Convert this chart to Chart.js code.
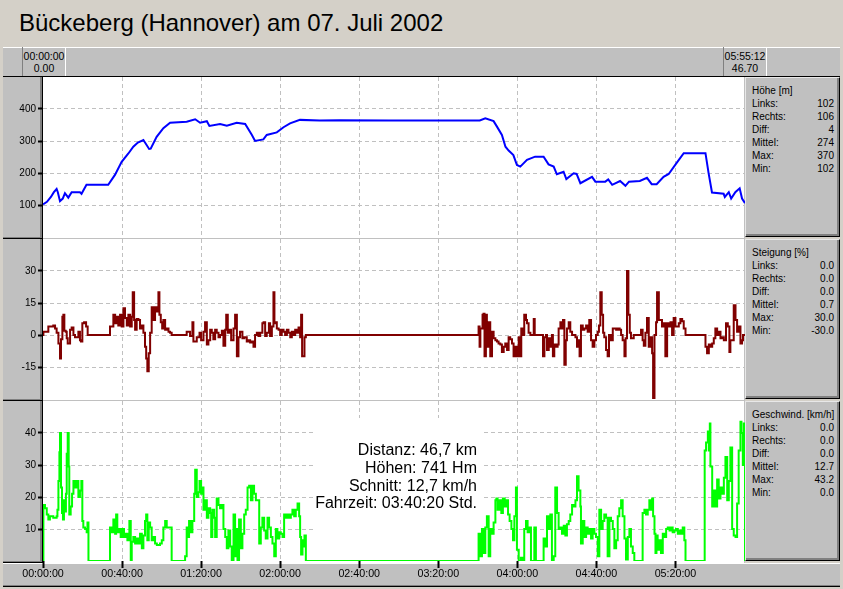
<!DOCTYPE html>
<html>
<head>
<meta charset="utf-8">
<script src="https://cdn.jsdelivr.net/npm/chart.js@4"></script>
<style>
body{margin:0;width:843px;height:589px;background:#d4d0c8;position:relative;overflow:hidden;font-family:"Liberation Sans",Arial,sans-serif;color:#000}
div,canvas{position:absolute;box-sizing:border-box}
#titel{left:19px;top:9px;font-size:24px;white-space:nowrap}
#topbar{left:3px;top:47px;width:837px;height:30px;background:#c0c0c0;border-top:1px solid #fff;border-bottom:1px solid #000}
.mark{top:47px;width:44px;height:29px;border-left:1px solid #808080;border-right:1px solid #fff;text-align:center;font-size:10.5px;line-height:12px;padding-top:3px}
#plotbg{left:43px;top:77px;width:702px;height:486px;background:#c0c0c0}
.weiss{left:43px;width:701px;background:#fff}
.gut{left:3px;width:40px;height:162px;background:#c0c0c0;border-right:1px solid #000;border-bottom:1px solid #000;box-shadow:inset -2px -1px 0 #808080}
.stat{left:745px;width:95px;height:160px;background:#c0c0c0;border-top:1px solid #e8e8e8;border-left:1px solid #e8e8e8;border-right:1px solid #000;border-bottom:1px solid #000;box-shadow:inset -2px -2px 0 #808080;padding:6px 5px 0 6px;font-size:10px;line-height:13px}
.stat .row{position:relative;display:flex;justify-content:space-between;white-space:nowrap}
#botbar{left:3px;top:563px;width:837px;height:23px;background:#c0c0c0;border-top:1px solid #fff;border-bottom:1px solid #808080;box-shadow:0 1px 0 #000}
</style>
</head>
<body>
<div id="titel">Bückeberg (Hannover) am 07. Juli 2002</div>
<div id="topbar"></div>
<div class="mark" style="left:22px">00:00:00<br>0.00</div>
<div class="mark" style="left:723px">05:55:12<br>46.70</div>
<div id="botbar"></div>
<div id="plotbg"></div>
<div class="weiss" style="top:77px;height:161px"></div>
<div class="weiss" style="top:239px;height:161px"></div>
<div class="weiss" style="top:401px;height:162px"></div>
<div class="gut" style="top:77px"></div>
<div class="gut" style="top:239px"></div>
<div class="gut" style="top:401px"></div>
<div class="stat" id="s1" style="top:77px"></div>
<div class="stat" id="s2" style="top:239px"></div>
<div class="stat" id="s3" style="top:401px"></div>
<canvas id="c1" width="745" height="160" style="left:0;top:77px"></canvas>
<canvas id="c2" width="745" height="160" style="left:0;top:239px"></canvas>
<canvas id="c3" width="745" height="184" style="left:0;top:401px"></canvas>
<script>
// Zeit in Minuten, Ende = 05:55:12
const tEnde = 355.2;

// Hoehe [m]
const hoehe = [[0,102],[2,110],[4,125],[5.5,140],[6.9,150],[7.5,140],[8.6,112],[10,120],[11.1,137],[12.8,123],[14.5,140],[18.7,140],[19.5,135],[22,163],[33,163],[36.4,194],[39.8,235],[43.2,261],[45.7,282],[48,295],[50.8,303],[53.7,275],[54.5,276],[57.5,313],[60.9,340],[64.3,357],[72.7,360],[77,368],[79.5,357],[82.9,362],[84.2,347],[89.6,353],[93,348],[98,357],[102.3,353],[105.7,319],[107.3,300],[111.5,305],[113.2,319],[118.3,327],[121.7,343],[125,355],[130,366],[140,364],[150,365],[175,364],[200,364],[221,364],[223.8,371],[228,362],[229.7,345],[232.2,319],[234,282],[235.6,270],[238,256],[239.8,225],[241.5,220],[244.9,241],[249,251],[253.3,251],[255.8,227],[258.4,220],[260,196],[263.4,204],[264.8,181],[268.5,199],[270,197],[271.9,168],[277.8,188],[279.5,173],[284.5,173],[286,180],[288,163],[292,175],[294.7,160],[296.5,173],[302,175],[305.6,185],[308,165],[310.5,165],[314,188],[316.6,197],[320.8,233],[324.2,262],[335.2,262],[336.8,199],[338.5,139],[344.4,135],[345,125],[347,140],[348.2,120],[350.3,140],[352.5,152],[353.7,120],[355.2,106]];

// Steigung [%]
const steigung = [[0,0],[0.2,1.5],[1.9,1.5],[2.7,4],[3.5,4],[5.2,4.5],[6.1,3],[6.9,1],[7.8,-4],[8.6,-11],[9.1,-2],[9.8,8.5],[10.3,9.5],[10.8,2],[11.5,1.5],[12.0,-1.5],[12.5,-4],[13.7,2.5],[14.5,3.5],[15.4,0],[16.2,-1],[17.9,1.5],[18.7,-2.5],[19.2,-3],[19.9,5.5],[20.8,6],[21.8,4],[22.6,0],[33.9,4],[35.6,9.5],[36.5,5.5],[37.3,8.5],[38.1,4.5],[39.0,9.5],[39.8,4],[40.7,12.5],[41.5,8],[42.4,4.5],[43.2,9.5],[44.1,4],[44.9,8.5],[45.4,20],[46.1,7],[46.6,2.5],[47.4,7.5],[48.3,7],[49.1,3],[50.0,4.5],[50.8,1],[51.6,-5.5],[52.2,-11],[52.8,-17],[53.5,-8.5],[54.2,1],[55.0,13],[55.9,7],[56.7,13],[57.6,11],[58.4,20],[58.9,9.5],[59.6,6],[60.3,3],[60.9,7],[61.8,2.5],[62.6,3],[63.5,1.5],[64.3,1],[65.1,0],[71.9,0],[72.7,1.5],[74.4,-0.5],[75.6,6],[76.1,-3],[77.8,-1],[79.2,1],[80.0,-2.5],[81.2,1.5],[82.0,6],[82.9,-4.5],[83.7,-2.5],[84.6,2.5],[85.4,1],[86.2,-2],[87.1,2.5],[87.9,1],[88.8,-1],[89.6,0],[90.5,2],[91.3,-5],[92.2,2.5],[92.7,9.5],[93.5,1],[94.3,2.5],[95.2,-2.5],[96.4,3],[97.2,9.5],[98.1,-10],[98.9,-1],[99.7,1.5],[100.9,-1.5],[101.9,-1],[103.1,-3],[103.9,-2.5],[104.8,-3.5],[105.6,-3],[106.5,-5.5],[107.3,0],[108.2,1],[109.0,-0.5],[109.9,1],[111.0,5.5],[111.6,6],[112.4,-0.5],[113.2,1],[114.3,5.5],[114.9,-0.5],[115.8,4],[116.6,20],[117.1,5.5],[117.8,6],[118.3,3],[119.2,2.5],[120.0,0],[120.8,2.5],[121.7,1.5],[122.5,0],[123.4,2.5],[124.2,1],[125.1,-1],[125.9,1.5],[126.8,0],[127.6,2.5],[128.4,1],[129.3,3.5],[130.1,-1],[130.6,9.5],[131.1,-10],[131.8,-10],[132.3,-1],[133.0,0],
  [220.4,4],[220.9,-5.5],[221.3,3],[222.4,9.5],[222.9,10],[223.4,-10],[224.1,9.5],[224.6,-5.5],[225.5,6],[226.3,-10],[227.2,1.5],[228.0,-1.5],[228.9,-2.5],[229.7,-3],[230.5,-4],[231.4,-4.5],[232.2,-8],[233.1,-5.5],[233.9,-4],[234.8,-7],[235.6,-1],[236.4,-2],[237.3,-4],[238.1,-10],[239.0,-5.5],[239.8,-10],[240.7,-1],[241.5,-10],[242.0,3],[242.9,0],[243.5,9.5],[244.4,7],[244.9,5.5],[245.7,1],[246.6,0],[248.3,7.5],[248.8,0],[252.5,0],[253.0,-10],[253.7,-1],[254.5,0],[255.0,-7],[255.9,-1.5],[256.7,-5.5],[257.5,0],[258.0,-10],[258.7,-4.5],[259.6,-5.5],[260.4,-4.5],[260.9,3],[261.8,6],[262.6,3],[263.1,7],[263.8,-14],[264.5,-2.5],[265.1,3],[266.0,6],[266.8,1.5],[267.7,0],[269.4,-1],[270.2,-5.5],[271.0,-2.5],[271.5,-10],[272.2,4.5],[273.1,2.5],[273.9,3],[274.8,4.5],[275.6,1.5],[276.4,7],[277.3,-2.5],[278.1,-5.5],[279.0,-2.5],[279.8,0],[280.7,1.5],[281.3,4.5],[282.0,20],[282.7,9.5],[283.4,1],[284.0,-1],[284.9,-7],[285.7,-10],[286.4,0],[287.4,-2.5],[288.3,3],[290.0,2.5],[290.8,3],[291.8,2.5],[292.5,0],[293.3,-2.5],[294.2,-10],[294.8,-1.5],[295.5,30],[296.2,9.5],[296.9,1],[297.5,-1.5],[298.9,0],[302.6,2.5],[303.4,-2.5],[304.0,-5],[304.8,1],[305.6,8],[306.5,-5.5],[307.3,-1],[308.2,-8.5],[308.7,-30],[309.4,0],[310.2,6],[310.7,20],[311.6,7],[313.2,4],[314.1,5.5],[314.9,-10],[315.8,5.5],[316.6,4],[317.5,6],[318.3,0],[319.1,8],[320.0,4],[321.7,5.5],[322.5,7.5],[323.4,6.5],[324.2,3],[325.1,0],[334.8,0],[335.2,-5.5],[336.0,-8.5],[336.9,-4.5],[337.7,-5.5],[338.6,-4],[339.4,-1.5],[340.2,3],[341.1,0],[341.9,1.5],[342.8,-1.5],[343.6,-1],[344.5,-2.5],[345.6,5.5],[346.5,4],[347.3,-8],[347.8,-2.5],[349.5,14],[350.4,7],[351.2,1.5],[352.0,4],[352.9,-4],[353.7,-2.5],[354.2,0],[355.2,0]];

// Geschwindigkeit [km/h]
const tempo = [[0,0],[0.2,17.5],[1.0,16.5],[1.9,14.5],[2.7,13],[3.5,14],[5.2,13.5],[6.9,14],[7.3,16],[7.8,25],[8.3,34],[8.6,40],[9.1,23],[9.6,15],[10.1,13],[10.6,19],[11.1,15.5],[11.6,21],[12.0,33.5],[12.5,40],[13.0,29.5],[13.3,14.5],[14.0,17],[14.7,21],[15.4,25],[16.2,23],[17.0,25],[17.9,20],[18.7,22],[19.4,25],[19.9,12.5],[20.4,10.5],[21.3,10],[22.1,9],[22.5,12],[23.0,0],
  [33.9,10.5],[34.8,9],[35.6,13],[36.5,8.5],[37.0,14.5],[37.6,9],[38.5,10],[39.3,7.5],[40.2,10],[41.0,7.5],[41.9,8.5],[42.7,6.5],[43.7,12.5],[44.4,0],[44.9,6],[45.7,7.5],[46.6,5.5],[47.4,7],[48.3,5.5],[49.1,8.5],[50.0,4],[50.8,8],[51.6,12.5],[52.2,14.5],[52.8,6.5],[53.5,12],[54.2,10.5],[55.0,6.5],[55.9,7.5],[56.7,5.5],[57.6,5],[59.2,5.5],[60.1,6.5],[60.9,10.5],[61.8,12.5],[62.6,10.5],[65.1,0],
  [71.9,1.5],[72.7,10.5],[73.2,7.5],[73.9,12.5],[74.8,9],[75.6,12.5],[76.5,21],[77.0,28.5],[77.8,20],[78.6,21.5],[79.2,25],[80.0,21],[80.5,23],[81.2,16],[82.0,19],[82.9,13.5],[83.7,16.5],[84.6,15],[85.1,7.5],[85.7,16],[86.6,13.5],[87.1,7.5],[87.9,19.5],[88.8,17.5],[89.6,16.5],[90.5,17.5],[91.3,10],[92.2,7.5],[93.0,4],[93.8,9.5],[94.7,4.5],[95.5,0],[96.4,14.5],[97.2,1.5],[97.7,10],[98.4,0],[99.2,13],[100.1,4],[100.9,8.5],[101.8,14.5],[102.6,16],[103.5,23],[104.3,23.5],[105.2,19],[106.0,23.5],[106.8,21],[107.7,19],[109.4,5.5],[110.2,10.5],[111.0,13.5],[111.9,9.5],[112.7,7],[113.6,13.5],[114.4,10.5],[115.3,7.5],[116.1,5.5],[117.0,1.5],[117.8,10],[118.6,7],[119.5,9],[120.3,8.5],[121.2,7.5],[122.0,14.5],[122.9,13.5],[123.7,14.5],[124.6,13.5],[125.4,14.5],[126.2,16],[127.1,14],[127.9,16],[128.8,18],[129.6,14],[130.1,7.5],[130.6,2],[131.3,6.5],[131.8,4.5],[132.3,8],[133.0,0],
  [220.4,8.5],[221.3,1.5],[222.1,10],[222.9,2.5],[223.8,10.5],[224.6,14],[225.5,1.5],[226.3,10],[227.2,8.5],[228.0,12],[228.9,19],[229.4,19.5],[230.0,16],[231.0,19],[231.9,15],[232.7,19.5],[233.6,17],[234.4,19],[235.3,14.5],[236.1,12.5],[237.0,10],[237.8,6.5],[238.5,14],[239.3,23],[239.8,3.5],[240.7,0],[241.8,1],[242.7,0],[243.5,10],[244.4,12.5],[245.2,9],[246.1,10.5],[246.9,0],[248.6,10.5],[249.4,0],[253.3,7],[254.2,4.5],[255.0,14],[255.9,10],[256.7,14.5],[257.5,0],[258.4,1.5],[259.2,23],[260.1,15],[260.9,10],[261.8,10.5],[262.6,8.5],[263.5,11],[264.3,8],[265.1,11.5],[266.0,12.5],[266.8,14.5],[267.7,17.5],[268.5,17],[269.4,19],[270.2,26.5],[271.0,22],[271.9,17],[272.2,5.5],[273.1,12.5],[273.9,7.5],[274.8,10.5],[275.6,8.5],[276.4,10],[277.3,7],[278.1,10],[279.0,8.5],[279.8,7.5],[280.7,1.5],[281.5,16],[282.4,10],[283.2,12.5],[284.0,14.5],[284.9,13.5],[285.7,1.5],[286.6,13.5],[287.4,12.5],[288.3,10],[289.1,4],[290.0,6.5],[290.8,14],[291.6,16.5],[292.5,19],[293.3,14],[294.2,7],[295.0,0.5],[295.9,7.5],[296.7,10],[297.5,4.5],[298.4,2.5],[299.2,0],[302.6,0],[303.4,15],[304.3,16],[305.1,14.5],[306.0,16],[306.8,19],[307.7,16],[308.2,19.5],[308.7,14],[309.4,8.5],[309.9,2.5],[310.4,8],[311.0,3.5],[311.9,6.5],[312.7,2.5],[313.6,8.5],[314.4,7.5],[315.3,10],[316.1,10.5],[317.0,9.5],[317.8,10.5],[318.6,9],[319.5,9.5],[320.3,10],[321.2,8.5],[322.0,9.5],[322.9,8.5],[323.7,10.5],[324.5,6.5],[325.1,0],
  [334.3,0],[334.8,34.5],[335.5,37],[336.4,40.5],[336.9,34.5],[337.4,43],[337.7,29.5],[338.6,17],[339.4,22],[340.2,17],[341.1,25.5],[341.9,19.5],[342.8,23],[343.6,21],[344.5,26],[345.3,32.5],[346.2,19],[347.0,25],[347.8,35.5],[348.7,10],[349.5,8],[350.4,7.5],[351.2,18],[352.0,34.5],[352.9,43.5],[353.4,40],[354.1,30],[354.6,43],[355.2,0]];

// Kennwerte rechts
const statHoehe = [['Höhe [m]',''],['Links:','102'],['Rechts:','106'],['Diff:','4'],['Mittel:','274'],['Max:','370'],['Min:','102']];
const statSteigung = [['Steigung [%]',''],['Links:','0.0'],['Rechts:','0.0'],['Diff:','0.0'],['Mittel:','0.7'],['Max:','30.0'],['Min:','-30.0']];
const statTempo = [['Geschwind. [km/h]',''],['Links:','0.0'],['Rechts:','0.0'],['Diff:','0.0'],['Mittel:','12.7'],['Max:','43.2'],['Min:','0.0']];
const info = ['Distanz: 46,7 km','Höhen: 741 Hm','Schnitt: 12,7 km/h','Fahrzeit: 03:40:20 Std.'];

const schrift = '"Liberation Sans", Arial, sans-serif';

function fillStat(id, rows) {
  const box = document.getElementById(id);
  rows.forEach(r => {
    const d = document.createElement('div');
    d.className = 'row';
    d.innerHTML = '<span>' + r[0] + '</span><span>' + r[1] + '</span>';
    box.appendChild(d);
  });
}
fillStat('s1', statHoehe);
fillStat('s2', statSteigung);
fillStat('s3', statTempo);

function zweistellig(n) { return (n < 10 ? '0' : '') + n; }
function zeit(min) {
  const s = Math.round(min * 60);
  return zweistellig(Math.floor(s / 3600)) + ':' + zweistellig(Math.floor(s % 3600 / 60)) + ':' + zweistellig(s % 60);
}

// weisses Feld fuer die Zusammenfassung
const infoBox = {
  id: 'infoBox',
  beforeDatasetsDraw(chart) {
    const ctx = chart.ctx;
    const a = chart.chartArea;
    ctx.save();
    ctx.fillStyle = '#fff';
    ctx.fillRect(313, a.top + 17, 168, a.bottom - a.top - 18);
    ctx.fillStyle = '#000';
    ctx.font = '16px ' + schrift;
    ctx.textAlign = 'right';
    ctx.textBaseline = 'alphabetic';
    for (let i = 0; i < info.length; i++) {
      ctx.fillText(info[i], 477, a.top + 54 + i * 17.8);
    }
    ctx.restore();
  }
};

function panel(id, reihe, farbe, yMin, yMax, yStep, stufen, mitZeit, plugins) {
  return new Chart(document.getElementById(id), {
    type: 'line',
    data: {
      datasets: [{
        data: reihe.map(p => ({x: p[0], y: p[1]})),
        borderColor: farbe,
        borderWidth: 2,
        pointRadius: 0,
        stepped: stufen,
        tension: 0,
        fill: false
      }]
    },
    options: {
      responsive: false,
      animation: false,
      devicePixelRatio: 1,
      layout: {padding: 0},
      plugins: {legend: {display: false}, tooltip: {enabled: false}},
      scales: {
        x: {
          type: 'linear',
          min: 0,
          max: tEnde,
          border: {display: false, dash: [4, 3]},
          grid: {
            color: c => (c.tick && c.tick.value === 0) ? 'rgba(0,0,0,0)' : '#c0c0c0',
            lineWidth: 1,
            drawTicks: mitZeit,
            tickLength: 7,
            tickColor: '#000',
            tickWidth: 2,
            tickBorderDash: []
          },
          ticks: {
            display: mitZeit,
            stepSize: 40,
            includeBounds: false,
            autoSkip: false,
            maxRotation: 0,
            padding: 0,
            color: '#000',
            font: {family: schrift, size: 10.7},
            callback: v => zeit(v)
          },
          afterFit: s => { s.height = mitZeit ? 24 : 0; s.paddingLeft = 0; s.paddingRight = 0; }
        },
        y: {
          min: yMin,
          max: yMax,
          border: {display: false, dash: [4, 3]},
          grid: {
            color: c => (c.tick && (c.tick.value === yMin || c.tick.value === yMax)) ? 'rgba(0,0,0,0)' : '#c0c0c0',
            tickColor: c => (c.tick && (c.tick.value === yMin || c.tick.value === yMax)) ? 'rgba(0,0,0,0)' : '#000',
            tickLength: 5,
            tickWidth: 2,
            tickBorderDash: []
          },
          ticks: {
            stepSize: yStep,
            padding: 2,
            color: '#000',
            font: {family: schrift, size: 10},
            callback: v => (v === yMin || v === yMax) ? '' : v
          },
          afterFit: s => { s.width = 43; s.paddingTop = 0; s.paddingBottom = 0; }
        }
      }
    },
    plugins: plugins || []
  });
}

panel('c1', hoehe, '#0000ff', 0, 500, 100, false, false);
panel('c2', steigung, '#800000', -30, 45, 15, true, false);
panel('c3', tempo, '#00ff00', 0, 50, 10, true, true, [infoBox]);
</script>
</body>
</html>
